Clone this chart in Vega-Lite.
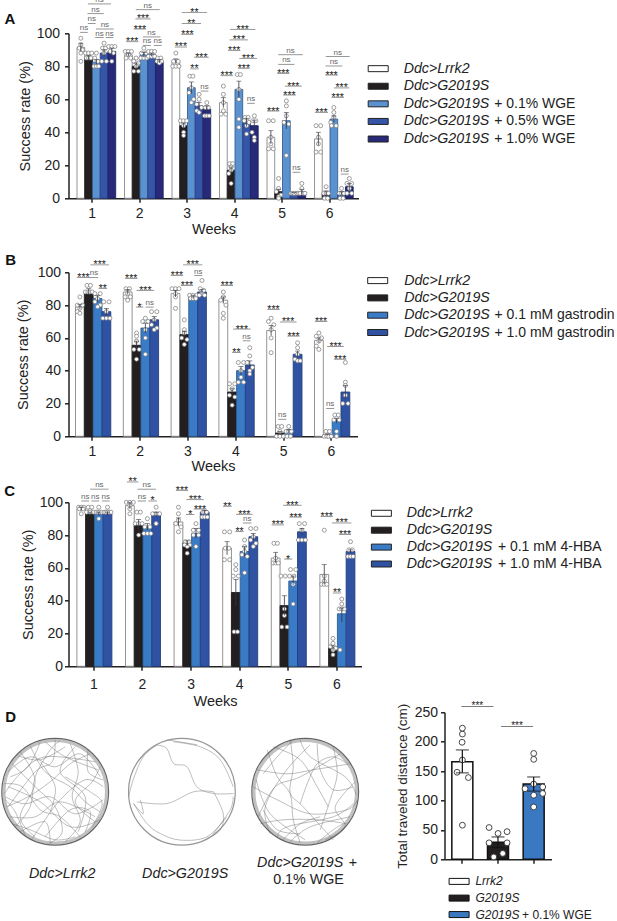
{"$schema":"https://vega.github.io/schema/vega-lite/v6.json","padding":{"left":-2.5,"top":-4.7,"right":0,"bottom":0},"bounds":"flush","align":"none","columns":2,"spacing":{"row":0,"column":0},
"resolve":{"scale":{"xOffset":"independent","fill":"independent","stroke":"independent","size":"independent"}},
"config":{"font":"Liberation Sans","view":{"stroke":null},"axis":{"grid":false,"domainColor":"#222","tickColor":"#222","domainWidth":1.5,"tickWidth":1.5,"tickSize":4,"labelColor":"#222","titleColor":"#222","labelFontSize":14,"titleFontSize":14.5,"titleFontWeight":"normal"}},
"datasets":{
"ab":[{"w":1,"s":"a","p":0.5,"v":91.5,"l":89,"h":94},{"w":1,"s":"b","p":1.5,"v":85,"l":83.5,"h":86.5},{"w":1,"s":"c","p":2.5,"v":82.5,"l":81,"h":84},{"w":1,"s":"d","p":3.5,"v":88,"l":86,"h":90},{"w":1,"s":"e","p":4.5,"v":89,"l":87,"h":91},
{"w":2,"s":"a","p":0.5,"v":87,"l":86,"h":88},{"w":2,"s":"b","p":1.5,"v":80,"l":78,"h":82},{"w":2,"s":"c","p":2.5,"v":87,"l":85.5,"h":88.5},{"w":2,"s":"d","p":3.5,"v":87,"l":86,"h":88},{"w":2,"s":"e","p":4.5,"v":83,"l":82,"h":84},
{"w":3,"s":"a","p":0.5,"v":83,"l":81.5,"h":84.5},{"w":3,"s":"b","p":1.5,"v":44,"l":42.5,"h":45.5},{"w":3,"s":"c","p":2.5,"v":67,"l":63.5,"h":70.5},{"w":3,"s":"d","p":3.5,"v":56,"l":54,"h":58},{"w":3,"s":"e","p":4.5,"v":54,"l":52,"h":56},
{"w":4,"s":"a","p":0.5,"v":58,"l":55,"h":61},{"w":4,"s":"b","p":1.5,"v":17,"l":15,"h":19},{"w":4,"s":"c","p":2.5,"v":66,"l":61,"h":71},{"w":4,"s":"d","p":3.5,"v":46,"l":43.5,"h":48.5},{"w":4,"s":"e","p":4.5,"v":44,"l":41,"h":47},
{"w":5,"s":"a","p":0.5,"v":37,"l":33,"h":41},{"w":5,"s":"b","p":1.5,"v":4,"l":2.5,"h":5.5},{"w":5,"s":"c","p":2.5,"v":47,"l":42,"h":52},{"w":5,"s":"d","p":3.5,"v":3,"l":2.5,"h":3.5},{"w":5,"s":"e","p":4.5,"v":4,"l":2.5,"h":5.5},
{"w":6,"s":"a","p":0.5,"v":36,"l":32,"h":40},{"w":6,"s":"b","p":1.5,"v":3,"l":1.5,"h":4.5},{"w":6,"s":"c","p":2.5,"v":48,"l":46,"h":50},{"w":6,"s":"d","p":3.5,"v":3,"l":2,"h":4},{"w":6,"s":"e","p":4.5,"v":7,"l":5,"h":9}],
"ap":[{"w":1,"p":0.5,"v":97},{"w":1,"p":0.5,"v":93},{"w":1,"p":0.3,"v":91},{"w":1,"p":0.7,"v":90},{"w":1,"p":0.5,"v":88},{"w":1,"p":0.5,"v":83},
{"w":1,"p":1.1,"v":88},{"w":1,"p":1.5,"v":88},{"w":1,"p":1.9,"v":88},{"w":1,"p":1.2,"v":85},{"w":1,"p":1.5,"v":85},{"w":1,"p":1.8,"v":85},
{"w":1,"p":2.5,"v":88},{"w":1,"p":2.3,"v":85},{"w":1,"p":2.7,"v":83},{"w":1,"p":2.2,"v":80},{"w":1,"p":2.5,"v":80},{"w":1,"p":2.8,"v":80},
{"w":1,"p":3.5,"v":94},{"w":1,"p":3.3,"v":91},{"w":1,"p":3.7,"v":91},{"w":1,"p":3.5,"v":88},{"w":1,"p":3.2,"v":83},{"w":1,"p":3.8,"v":83},
{"w":1,"p":4.1,"v":92},{"w":1,"p":4.5,"v":92},{"w":1,"p":4.9,"v":92},{"w":1,"p":4.3,"v":89},{"w":1,"p":4.7,"v":88},{"w":1,"p":4.5,"v":83},
{"w":2,"p":0.1,"v":89},{"w":2,"p":0.5,"v":89},{"w":2,"p":0.9,"v":89},{"w":2,"p":0.5,"v":87},{"w":2,"p":0.2,"v":85},{"w":2,"p":0.8,"v":85},
{"w":2,"p":1.5,"v":85},{"w":2,"p":1.2,"v":83},{"w":2,"p":1.8,"v":82},{"w":2,"p":1.5,"v":80},{"w":2,"p":1.2,"v":77},{"w":2,"p":1.8,"v":77},
{"w":2,"p":2.5,"v":91},{"w":2,"p":2.2,"v":88},{"w":2,"p":2.8,"v":88},{"w":2,"p":2.1,"v":85},{"w":2,"p":2.5,"v":85},{"w":2,"p":2.9,"v":85},
{"w":2,"p":3.1,"v":89},{"w":2,"p":3.5,"v":89},{"w":2,"p":3.9,"v":89},{"w":2,"p":3.1,"v":86},{"w":2,"p":3.5,"v":86},{"w":2,"p":3.9,"v":86},
{"w":2,"p":4.3,"v":85},{"w":2,"p":4.7,"v":85},{"w":2,"p":4.2,"v":83},{"w":2,"p":4.5,"v":83},{"w":2,"p":4.8,"v":83},{"w":2,"p":4.5,"v":82},
{"w":3,"p":0.5,"v":88},{"w":3,"p":0.2,"v":83},{"w":3,"p":0.8,"v":83},{"w":3,"p":0.1,"v":80},{"w":3,"p":0.5,"v":80},{"w":3,"p":0.9,"v":80},
{"w":3,"p":1.1,"v":47},{"w":3,"p":1.5,"v":47},{"w":3,"p":1.9,"v":47},{"w":3,"p":1.5,"v":44},{"w":3,"p":1.5,"v":40},{"w":3,"p":1.5,"v":38},
{"w":3,"p":2.3,"v":74},{"w":3,"p":2.7,"v":74},{"w":3,"p":2.5,"v":67},{"w":3,"p":2.2,"v":64},{"w":3,"p":2.8,"v":60},{"w":3,"p":2.5,"v":58},
{"w":3,"p":3.5,"v":63},{"w":3,"p":3.5,"v":60},{"w":3,"p":3.2,"v":57},{"w":3,"p":3.8,"v":55},{"w":3,"p":3.2,"v":53},{"w":3,"p":3.5,"v":52},
{"w":3,"p":4.5,"v":58},{"w":3,"p":4.3,"v":55},{"w":3,"p":4.7,"v":55},{"w":3,"p":4.2,"v":50},{"w":3,"p":4.5,"v":50},{"w":3,"p":4.8,"v":50},
{"w":4,"p":0.5,"v":68},{"w":4,"p":0.5,"v":63},{"w":4,"p":0.5,"v":58},{"w":4,"p":0.5,"v":53},{"w":4,"p":0.2,"v":51},{"w":4,"p":0.8,"v":51},
{"w":4,"p":1.3,"v":21},{"w":4,"p":1.7,"v":21},{"w":4,"p":1.5,"v":19},{"w":4,"p":1.5,"v":17},{"w":4,"p":1.2,"v":15},{"w":4,"p":1.5,"v":9},
{"w":4,"p":2.3,"v":75},{"w":4,"p":2.7,"v":75},{"w":4,"p":2.5,"v":66},{"w":4,"p":2.5,"v":60},{"w":4,"p":2.5,"v":48},{"w":4,"p":2.5,"v":43},
{"w":4,"p":3.3,"v":49},{"w":4,"p":3.7,"v":49},{"w":4,"p":3.2,"v":47},{"w":4,"p":3.8,"v":46},{"w":4,"p":3.5,"v":44},{"w":4,"p":3.5,"v":39},
{"w":4,"p":4.5,"v":50},{"w":4,"p":4.3,"v":47},{"w":4,"p":4.7,"v":47},{"w":4,"p":4.2,"v":40},{"w":4,"p":4.5,"v":37},{"w":4,"p":4.5,"v":35},
{"w":5,"p":0.2,"v":47},{"w":5,"p":0.8,"v":47},{"w":5,"p":0.5,"v":37},{"w":5,"p":0.5,"v":33},{"w":5,"p":0.2,"v":30},{"w":5,"p":0.8,"v":30},
{"w":5,"p":1.5,"v":12},{"w":5,"p":1.5,"v":6},{"w":5,"p":1.2,"v":4},{"w":5,"p":1.8,"v":2},{"w":5,"p":1.5,"v":1},{"w":5,"p":1.5,"v":0},
{"w":5,"p":2.5,"v":59},{"w":5,"p":2.5,"v":56},{"w":5,"p":2.5,"v":50},{"w":5,"p":2.2,"v":46},{"w":5,"p":2.8,"v":45},{"w":5,"p":2.5,"v":26},
{"w":5,"p":3.1,"v":3},{"w":5,"p":3.3,"v":3},{"w":5,"p":3.5,"v":3},{"w":5,"p":3.7,"v":3},{"w":5,"p":3.9,"v":3},{"w":5,"p":3.5,"v":3},
{"w":5,"p":4.5,"v":9},{"w":5,"p":4.5,"v":6},{"w":5,"p":4.1,"v":3},{"w":5,"p":4.3,"v":3},{"w":5,"p":4.7,"v":3},{"w":5,"p":4.9,"v":3},
{"w":6,"p":0.2,"v":44},{"w":6,"p":0.8,"v":44},{"w":6,"p":0.5,"v":37},{"w":6,"p":0.5,"v":33},{"w":6,"p":0.2,"v":28},{"w":6,"p":0.8,"v":28},
{"w":6,"p":1.5,"v":7},{"w":6,"p":1.2,"v":3},{"w":6,"p":1.5,"v":3},{"w":6,"p":1.8,"v":3},{"w":6,"p":1.3,"v":0},{"w":6,"p":1.7,"v":0},
{"w":6,"p":2.5,"v":55},{"w":6,"p":2.5,"v":52},{"w":6,"p":2.5,"v":49},{"w":6,"p":2.1,"v":46},{"w":6,"p":2.2,"v":44},{"w":6,"p":2.8,"v":44},
{"w":6,"p":3.5,"v":6},{"w":6,"p":3.2,"v":3},{"w":6,"p":3.5,"v":3},{"w":6,"p":3.8,"v":3},{"w":6,"p":3.3,"v":0},{"w":6,"p":3.7,"v":0},
{"w":6,"p":4.5,"v":12},{"w":6,"p":4.2,"v":9},{"w":6,"p":4.8,"v":9},{"w":6,"p":4.5,"v":6},{"w":6,"p":4.2,"v":3},{"w":6,"p":4.8,"v":3}],
"as":[{"w":1,"p":2.9,"n":3,"v":117.8,"t":"ns"},{"w":1,"p":2.4,"n":2.1,"v":111.9,"t":"ns"},{"w":1,"p":1.9,"n":1,"v":106,"t":"ns"},{"w":1,"p":0.9,"n":1,"v":100.6,"t":"ns"},{"w":1,"p":3.6,"n":2.3,"v":102.6,"t":"ns"},{"w":1,"p":2.9,"n":1.1,"v":97.4,"t":"ns"},{"w":1,"p":4.2,"n":1,"v":97.4,"t":"ns"},
{"w":2,"p":3,"n":3.1,"v":114.3,"t":"ns"},{"w":2,"p":2.4,"n":2,"v":108.7,"t":"***"},{"w":2,"p":2,"n":1.6,"v":102.6,"t":"***"},{"w":2,"p":1,"n":1.6,"v":94.9,"t":"***"},{"w":2,"p":3.5,"n":2.3,"v":97.8,"t":"ns"},{"w":2,"p":2.9,"n":1,"v":92.7,"t":"ns"},{"w":2,"p":4.3,"n":1,"v":92.7,"t":"ns"},
{"w":3,"p":2.9,"n":3.3,"v":112.5,"t":"**"},{"w":3,"p":2.5,"n":2.5,"v":106,"t":"**"},{"w":3,"p":2,"n":1.6,"v":99.4,"t":"***"},{"w":3,"p":1.15,"n":1.6,"v":91.7,"t":"***"},{"w":3,"p":3.8,"n":1.9,"v":85.5,"t":"***"},{"w":3,"p":2.9,"n":1.1,"v":78.4,"t":"**"},{"w":3,"p":4.2,"n":1,"v":65,"t":"ns"},
{"w":4,"p":3,"n":3.3,"v":102.4,"t":"***"},{"w":4,"p":2.5,"n":2.4,"v":96,"t":"***"},{"w":4,"p":1.9,"n":1.6,"v":89.5,"t":"***"},{"w":4,"p":3.7,"n":2.3,"v":84.8,"t":"***"},{"w":4,"p":3.15,"n":1.5,"v":78.8,"t":"***"},{"w":4,"p":0.93,"n":1.6,"v":74.3,"t":"***"},{"w":4,"p":4.07,"n":1,"v":57.6,"t":"ns"},
{"w":5,"p":3.04,"n":3.2,"v":87,"t":"ns"},{"w":5,"p":2.5,"n":2.1,"v":81.2,"t":"ns"},{"w":5,"p":2.1,"n":1.6,"v":75.8,"t":"***"},{"w":5,"p":3.4,"n":2.2,"v":68,"t":"***"},{"w":5,"p":2.9,"n":1.65,"v":62.6,"t":"***"},{"w":5,"p":0.8,"n":1.6,"v":52.9,"t":"***"},{"w":5,"p":3.8,"n":1,"v":15.8,"t":"ns"},
{"w":6,"p":3,"n":3.1,"v":85.9,"t":"ns"},{"w":6,"p":2.5,"n":2.2,"v":80.2,"t":"ns"},{"w":6,"p":2.2,"n":1.65,"v":74.7,"t":"***"},{"w":6,"p":3.5,"n":2,"v":66.9,"t":"***"},{"w":6,"p":3,"n":1.6,"v":61.2,"t":"***"},{"w":6,"p":0.9,"n":1.7,"v":52.1,"t":"***"},{"w":6,"p":3.9,"n":1,"v":14.7,"t":"ns"}],
"bb":[{"w":1,"s":"a","p":0.5,"v":79,"l":77.5,"h":80.5},{"w":1,"s":"b","p":1.5,"v":88,"l":86,"h":90},{"w":1,"s":"c","p":2.5,"v":84,"l":82,"h":86},{"w":1,"s":"d","p":3.5,"v":76,"l":73.5,"h":78},
{"w":2,"s":"a","p":0.5,"v":88,"l":86.5,"h":89.5},{"w":2,"s":"b","p":1.5,"v":55.5,"l":53,"h":58},{"w":2,"s":"c","p":2.5,"v":66,"l":63,"h":69},{"w":2,"s":"d","p":3.5,"v":71,"l":69,"h":73},
{"w":3,"s":"a","p":0.5,"v":87,"l":85,"h":89},{"w":3,"s":"b","p":1.5,"v":62,"l":60,"h":64},{"w":3,"s":"c","p":2.5,"v":85,"l":84,"h":86},{"w":3,"s":"d","p":3.5,"v":88,"l":86.5,"h":89.5},
{"w":4,"s":"a","p":0.5,"v":83,"l":81,"h":85},{"w":4,"s":"b","p":1.5,"v":27,"l":25,"h":29},{"w":4,"s":"c","p":2.5,"v":40,"l":37.5,"h":42.5},{"w":4,"s":"d","p":3.5,"v":43.5,"l":41,"h":46},
{"w":5,"s":"a","p":0.5,"v":64.5,"l":61.5,"h":67.5},{"w":5,"s":"b","p":1.5,"v":2,"l":1,"h":3},{"w":5,"s":"c","p":2.5,"v":3,"l":2,"h":4},{"w":5,"s":"d","p":3.5,"v":50,"l":48,"h":52},
{"w":6,"s":"a","p":0.5,"v":58.5,"l":57,"h":60},{"w":6,"s":"b","p":1.5,"v":1,"l":0.5,"h":1.5},{"w":6,"s":"c","p":2.5,"v":9.5,"l":8,"h":11},{"w":6,"s":"d","p":3.5,"v":27,"l":23,"h":31}],
"bp":[{"w":1,"p":0.5,"v":85},{"w":1,"p":0.2,"v":80},{"w":1,"p":0.8,"v":80},{"w":1,"p":0.5,"v":78},{"w":1,"p":0.2,"v":76},{"w":1,"p":0.5,"v":75},
{"w":1,"p":1.3,"v":92},{"w":1,"p":1.7,"v":92},{"w":1,"p":1.1,"v":88},{"w":1,"p":1.4,"v":88},{"w":1,"p":1.6,"v":88},{"w":1,"p":1.9,"v":88},
{"w":1,"p":2.2,"v":87},{"w":1,"p":2.8,"v":87},{"w":1,"p":2.5,"v":84},{"w":1,"p":2.2,"v":82},{"w":1,"p":2.8,"v":80},{"w":1,"p":2.5,"v":79},
{"w":1,"p":3.2,"v":82},{"w":1,"p":3.8,"v":82},{"w":1,"p":3.5,"v":76},{"w":1,"p":3.1,"v":72},{"w":1,"p":3.5,"v":72},{"w":1,"p":3.9,"v":72},
{"w":2,"p":0.3,"v":90},{"w":2,"p":0.7,"v":90},{"w":2,"p":0.5,"v":87},{"w":2,"p":0.2,"v":85},{"w":2,"p":0.8,"v":85},{"w":2,"p":0.5,"v":83},
{"w":2,"p":1.5,"v":63},{"w":2,"p":1.5,"v":61},{"w":2,"p":1.5,"v":58},{"w":2,"p":1.2,"v":53},{"w":2,"p":1.8,"v":53},{"w":2,"p":1.5,"v":47},
{"w":2,"p":2.5,"v":72},{"w":2,"p":2.2,"v":70},{"w":2,"p":2.8,"v":70},{"w":2,"p":2.5,"v":65},{"w":2,"p":2.5,"v":60},{"w":2,"p":2.5,"v":50},
{"w":2,"p":3.2,"v":76},{"w":2,"p":3.8,"v":76},{"w":2,"p":3.5,"v":71},{"w":2,"p":3.2,"v":68},{"w":2,"p":3.8,"v":66},{"w":2,"p":3.5,"v":65},
{"w":3,"p":0.1,"v":90},{"w":3,"p":0.5,"v":90},{"w":3,"p":0.9,"v":90},{"w":3,"p":0.5,"v":87},{"w":3,"p":0.5,"v":85},{"w":3,"p":0.5,"v":78},
{"w":3,"p":1.5,"v":71},{"w":3,"p":1.5,"v":65},{"w":3,"p":1.5,"v":63},{"w":3,"p":1.2,"v":60},{"w":3,"p":1.8,"v":59},{"w":3,"p":1.5,"v":56},
{"w":3,"p":2.1,"v":86},{"w":3,"p":2.5,"v":86},{"w":3,"p":2.9,"v":86},{"w":3,"p":2.2,"v":84},{"w":3,"p":2.5,"v":84},{"w":3,"p":2.8,"v":84},
{"w":3,"p":3.5,"v":95},{"w":3,"p":3.3,"v":90},{"w":3,"p":3.7,"v":89},{"w":3,"p":3.5,"v":87},{"w":3,"p":3.2,"v":86},{"w":3,"p":3.8,"v":86},
{"w":4,"p":0.5,"v":88},{"w":4,"p":0.5,"v":85},{"w":4,"p":0.2,"v":83},{"w":4,"p":0.8,"v":80},{"w":4,"p":0.5,"v":75},{"w":4,"p":0.5,"v":72},
{"w":4,"p":1.2,"v":32},{"w":4,"p":1.8,"v":32},{"w":4,"p":1.5,"v":29},{"w":4,"p":1.2,"v":25},{"w":4,"p":1.8,"v":24},{"w":4,"p":1.5,"v":19},
{"w":4,"p":2.2,"v":45},{"w":4,"p":2.8,"v":45},{"w":4,"p":2.5,"v":40},{"w":4,"p":2.5,"v":36},{"w":4,"p":2.2,"v":33},{"w":4,"p":2.8,"v":33},
{"w":4,"p":3.5,"v":54},{"w":4,"p":3.5,"v":49},{"w":4,"p":3.2,"v":45},{"w":4,"p":3.8,"v":42},{"w":4,"p":3.5,"v":40},{"w":4,"p":3.5,"v":38},
{"w":5,"p":0.5,"v":72},{"w":5,"p":0.2,"v":70},{"w":5,"p":0.8,"v":68},{"w":5,"p":0.5,"v":65},{"w":5,"p":0.5,"v":60},{"w":5,"p":0.5,"v":51},
{"w":5,"p":1.3,"v":6},{"w":5,"p":1.7,"v":6},{"w":5,"p":1.5,"v":3},{"w":5,"p":1.1,"v":0},{"w":5,"p":1.5,"v":0},{"w":5,"p":1.9,"v":0},
{"w":5,"p":2.5,"v":6},{"w":5,"p":2.2,"v":3},{"w":5,"p":2.5,"v":3},{"w":5,"p":2.8,"v":3},{"w":5,"p":2.3,"v":0},{"w":5,"p":2.7,"v":0},
{"w":5,"p":3.5,"v":57},{"w":5,"p":3.5,"v":54},{"w":5,"p":3.5,"v":50},{"w":5,"p":3.2,"v":47},{"w":5,"p":3.5,"v":46},{"w":5,"p":3.8,"v":46},
{"w":6,"p":0.5,"v":63},{"w":6,"p":0.2,"v":61},{"w":6,"p":0.8,"v":60},{"w":6,"p":0.5,"v":58},{"w":6,"p":0.2,"v":55},{"w":6,"p":0.5,"v":53},
{"w":6,"p":1.3,"v":3},{"w":6,"p":1.7,"v":3},{"w":6,"p":1.1,"v":0},{"w":6,"p":1.4,"v":0},{"w":6,"p":1.6,"v":0},{"w":6,"p":1.9,"v":0},
{"w":6,"p":2.3,"v":13},{"w":6,"p":2.7,"v":13},{"w":6,"p":2.2,"v":10},{"w":6,"p":2.8,"v":10},{"w":6,"p":2.5,"v":3},{"w":6,"p":2.5,"v":0},
{"w":6,"p":3.5,"v":45},{"w":6,"p":3.5,"v":33},{"w":6,"p":3.5,"v":31},{"w":6,"p":3.5,"v":25},{"w":6,"p":3.2,"v":20},{"w":6,"p":3.8,"v":20}],
"bs":[{"w":1,"p":2.74,"n":2.1,"v":104.5,"t":"***"},{"w":1,"p":0.9,"n":1.5,"v":96.9,"t":"***"},{"w":1,"p":2.1,"n":0.95,"v":96.9,"t":"ns"},{"w":1,"p":3.1,"n":0.95,"v":90.2,"t":"**"},
{"w":2,"p":0.9,"n":1.4,"v":96.3,"t":"***"},{"w":2,"p":2.5,"n":2,"v":89,"t":"***"},{"w":2,"p":1.85,"n":0.85,"v":78.8,"t":"*"},{"w":2,"p":3,"n":0.9,"v":78.8,"t":"ns"},
{"w":3,"p":2.45,"n":2.2,"v":104.5,"t":"***"},{"w":3,"p":0.66,"n":1.4,"v":98,"t":"***"},{"w":3,"p":3.08,"n":0.9,"v":98,"t":"ns"},{"w":3,"p":1.8,"n":1.4,"v":91.9,"t":"***"},
{"w":4,"p":0.9,"n":1.4,"v":92,"t":"***"},{"w":4,"p":2.6,"n":2,"v":65.4,"t":"***"},{"w":4,"p":3.13,"n":0.85,"v":58.2,"t":"ns"},{"w":4,"p":1.98,"n":0.95,"v":51.1,"t":"**"},
{"w":5,"p":0.77,"n":1.4,"v":77.4,"t":"***"},{"w":5,"p":2.43,"n":1.9,"v":69.7,"t":"***"},{"w":5,"p":3.04,"n":1.4,"v":61.1,"t":"***"},{"w":5,"p":1.77,"n":0.9,"v":10.4,"t":"ns"},
{"w":6,"p":0.74,"n":1.4,"v":70,"t":"***"},{"w":6,"p":2.38,"n":1.9,"v":54.8,"t":"***"},{"w":6,"p":2.9,"n":1.4,"v":47,"t":"***"},{"w":6,"p":1.77,"n":0.9,"v":17,"t":"ns"}],
"cb":[{"w":1,"s":"a","p":0.5,"v":96,"l":95,"h":97},{"w":1,"s":"b","p":1.5,"v":93,"l":92,"h":94},{"w":1,"s":"c","p":2.5,"v":93,"l":92,"h":94},{"w":1,"s":"d","p":3.5,"v":93,"l":92,"h":94},
{"w":2,"s":"a","p":0.5,"v":98,"l":96,"h":100},{"w":2,"s":"b","p":1.5,"v":86,"l":83,"h":89.5},{"w":2,"s":"c","p":2.5,"v":85,"l":83,"h":87},{"w":2,"s":"d","p":3.5,"v":93,"l":91,"h":94},
{"w":3,"s":"a","p":0.5,"v":88,"l":85.5,"h":90.5},{"w":3,"s":"b","p":1.5,"v":75,"l":73.5,"h":76.5},{"w":3,"s":"c","p":2.5,"v":81,"l":78,"h":84},{"w":3,"s":"d","p":3.5,"v":94,"l":93,"h":95},
{"w":4,"s":"a","p":0.5,"v":72,"l":68,"h":76},{"w":4,"s":"b","p":1.5,"v":45,"l":37,"h":53},{"w":4,"s":"c","p":2.5,"v":70,"l":67,"h":73},{"w":4,"s":"d","p":3.5,"v":79,"l":77,"h":81},
{"w":5,"s":"a","p":0.5,"v":66,"l":63,"h":69.5},{"w":5,"s":"b","p":1.5,"v":37,"l":31,"h":43},{"w":5,"s":"c","p":2.5,"v":52,"l":49.5,"h":55},{"w":5,"s":"d","p":3.5,"v":82,"l":80,"h":84},
{"w":6,"s":"a","p":0.5,"v":56,"l":50,"h":62},{"w":6,"s":"b","p":1.5,"v":11,"l":9.5,"h":12.5},{"w":6,"s":"c","p":2.5,"v":32,"l":27,"h":35.5},{"w":6,"s":"d","p":3.5,"v":70,"l":69,"h":71}],
"cp":[{"w":1,"p":0.2,"v":97},{"w":1,"p":0.5,"v":97},{"w":1,"p":0.8,"v":97},{"w":1,"p":0.3,"v":96},{"w":1,"p":0.7,"v":96},{"w":1,"p":0.5,"v":93},
{"w":1,"p":1.3,"v":97},{"w":1,"p":1.7,"v":97},{"w":1,"p":1.5,"v":95},{"w":1,"p":1.1,"v":94},{"w":1,"p":1.5,"v":94},{"w":1,"p":1.9,"v":94},
{"w":1,"p":2.5,"v":97},{"w":1,"p":2.2,"v":94},{"w":1,"p":2.4,"v":94},{"w":1,"p":2.6,"v":94},{"w":1,"p":2.8,"v":94},{"w":1,"p":2.5,"v":90},
{"w":1,"p":3.5,"v":97},{"w":1,"p":3.1,"v":94},{"w":1,"p":3.3,"v":94},{"w":1,"p":3.5,"v":94},{"w":1,"p":3.7,"v":94},{"w":1,"p":3.9,"v":94},
{"w":2,"p":0.1,"v":100},{"w":2,"p":0.5,"v":100},{"w":2,"p":0.9,"v":100},{"w":2,"p":0.5,"v":98},{"w":2,"p":0.5,"v":96},{"w":2,"p":0.5,"v":93},
{"w":2,"p":1.3,"v":94},{"w":2,"p":1.7,"v":94},{"w":2,"p":1.1,"v":87},{"w":2,"p":1.5,"v":87},{"w":2,"p":1.9,"v":87},{"w":2,"p":1.5,"v":80},
{"w":2,"p":2.5,"v":90},{"w":2,"p":2.2,"v":85},{"w":2,"p":2.8,"v":85},{"w":2,"p":2.1,"v":81},{"w":2,"p":2.5,"v":81},{"w":2,"p":2.9,"v":81},
{"w":2,"p":3.5,"v":97},{"w":2,"p":3.1,"v":93},{"w":2,"p":3.5,"v":93},{"w":2,"p":3.9,"v":93},{"w":2,"p":3.5,"v":87},{"w":2,"p":3.5,"v":87},
{"w":3,"p":0.5,"v":97},{"w":3,"p":0.5,"v":93},{"w":3,"p":0.5,"v":89},{"w":3,"p":0.2,"v":87},{"w":3,"p":0.8,"v":85},{"w":3,"p":0.5,"v":82},
{"w":3,"p":1.3,"v":76},{"w":3,"p":1.7,"v":76},{"w":3,"p":1.2,"v":74},{"w":3,"p":1.8,"v":74},{"w":3,"p":1.5,"v":73},{"w":3,"p":1.5,"v":69},
{"w":3,"p":2.5,"v":87},{"w":3,"p":2.2,"v":83},{"w":3,"p":2.8,"v":83},{"w":3,"p":2.2,"v":80},{"w":3,"p":2.8,"v":80},{"w":3,"p":2.5,"v":73},
{"w":3,"p":3.3,"v":94},{"w":3,"p":3.5,"v":94},{"w":3,"p":3.7,"v":94},{"w":3,"p":3.2,"v":91},{"w":3,"p":3.5,"v":91},{"w":3,"p":3.8,"v":91},
{"w":4,"p":0.2,"v":82},{"w":4,"p":0.8,"v":82},{"w":4,"p":0.3,"v":72},{"w":4,"p":0.7,"v":72},{"w":4,"p":0.2,"v":65},{"w":4,"p":0.8,"v":65},
{"w":4,"p":1.5,"v":62},{"w":4,"p":1.5,"v":59},{"w":4,"p":1.2,"v":55},{"w":4,"p":1.8,"v":55},{"w":4,"p":1.3,"v":21},{"w":4,"p":1.7,"v":21},
{"w":4,"p":2.5,"v":77},{"w":4,"p":2.5,"v":73},{"w":4,"p":2.5,"v":70},{"w":4,"p":2.2,"v":68},{"w":4,"p":2.8,"v":67},{"w":4,"p":2.5,"v":57},
{"w":4,"p":3.2,"v":84},{"w":4,"p":3.8,"v":84},{"w":4,"p":3.5,"v":79},{"w":4,"p":3.2,"v":77},{"w":4,"p":3.8,"v":75},{"w":4,"p":3.5,"v":73},
{"w":5,"p":0.3,"v":75},{"w":5,"p":0.7,"v":75},{"w":5,"p":0.5,"v":66},{"w":5,"p":0.2,"v":63},{"w":5,"p":0.5,"v":63},{"w":5,"p":0.8,"v":63},
{"w":5,"p":1.1,"v":55},{"w":5,"p":1.6,"v":55},{"w":5,"p":1.5,"v":35},{"w":5,"p":1.5,"v":31},{"w":5,"p":1.2,"v":24},{"w":5,"p":1.8,"v":24},
{"w":5,"p":2.2,"v":59},{"w":5,"p":2.8,"v":59},{"w":5,"p":2.1,"v":55},{"w":5,"p":2.6,"v":55},{"w":5,"p":2.5,"v":50},{"w":5,"p":2.5,"v":38},
{"w":5,"p":3.2,"v":87},{"w":5,"p":3.8,"v":87},{"w":5,"p":3.5,"v":83},{"w":5,"p":3.1,"v":77},{"w":5,"p":3.5,"v":77},{"w":5,"p":3.9,"v":77},
{"w":6,"p":0.5,"v":83},{"w":6,"p":0.5,"v":55},{"w":6,"p":0.5,"v":52},{"w":6,"p":0.2,"v":50},{"w":6,"p":0.5,"v":50},{"w":6,"p":0.8,"v":50},
{"w":6,"p":1.5,"v":17},{"w":6,"p":1.5,"v":14},{"w":6,"p":1.2,"v":12},{"w":6,"p":1.8,"v":11},{"w":6,"p":1.5,"v":10},{"w":6,"p":1.5,"v":7},
{"w":6,"p":2.5,"v":41},{"w":6,"p":2.5,"v":38},{"w":6,"p":2.2,"v":35},{"w":6,"p":2.5,"v":35},{"w":6,"p":2.8,"v":35},{"w":6,"p":2.3,"v":10},
{"w":6,"p":3.5,"v":76},{"w":6,"p":3.3,"v":71},{"w":6,"p":3.7,"v":71},{"w":6,"p":3.2,"v":67},{"w":6,"p":3.5,"v":67},{"w":6,"p":3.8,"v":67}],
"cs":[{"w":1,"p":2.57,"n":2.1,"v":108,"t":"ns"},{"w":1,"p":0.95,"n":0.9,"v":100.8,"t":"ns"},{"w":1,"p":2.1,"n":0.9,"v":100.8,"t":"ns"},{"w":1,"p":3.3,"n":0.9,"v":100.8,"t":"ns"},
{"w":2,"p":0.82,"n":1.3,"v":112.4,"t":"**"},{"w":2,"p":2.43,"n":2.1,"v":108,"t":"ns"},{"w":2,"p":1.88,"n":0.95,"v":100.8,"t":"ns"},{"w":2,"p":3.1,"n":0.95,"v":100.8,"t":"*"},
{"w":3,"p":0.9,"n":1.4,"v":107.3,"t":"***"},{"w":3,"p":2.4,"n":2,"v":101.6,"t":"***"},{"w":3,"p":2.97,"n":1.45,"v":95.9,"t":"***"},{"w":3,"p":1.84,"n":0.95,"v":92.5,"t":"*"},
{"w":4,"p":0.53,"n":1,"v":97.6,"t":"**"},{"w":4,"p":2.47,"n":1.9,"v":92.7,"t":"***"},{"w":4,"p":2.8,"n":1,"v":87.4,"t":"ns"},{"w":4,"p":1.92,"n":0.95,"v":82.1,"t":"**"},
{"w":5,"p":2.4,"n":2.1,"v":98.2,"t":"***"},{"w":5,"p":2.78,"n":1.45,"v":91,"t":"***"},{"w":5,"p":0.74,"n":1.4,"v":86.2,"t":"***"},{"w":5,"p":1.92,"n":0.95,"v":65.4,"t":"*"},
{"w":6,"p":0.78,"n":1.4,"v":91.3,"t":"***"},{"w":6,"p":2.49,"n":2.2,"v":87.4,"t":"***"},{"w":6,"p":2.87,"n":1.4,"v":80.3,"t":"***"},{"w":6,"p":1.96,"n":0.95,"v":44.7,"t":"**"}],
"la":[{"r":1,"t":"Ddc>Lrrk2","u":"","s":"a"},{"r":2,"t":"Ddc>G2019S","u":"","s":"b"},{"r":3,"t":"Ddc>G2019S","u":"+ 0.1% WGE","s":"c"},{"r":4,"t":"Ddc>G2019S","u":"+ 0.5% WGE","s":"d"},{"r":5,"t":"Ddc>G2019S","u":"+ 1.0% WGE","s":"e"}],
"lb":[{"r":1,"t":"Ddc>Lrrk2","u":"","s":"a"},{"r":2,"t":"Ddc>G2019S","u":"","s":"b"},{"r":3,"t":"Ddc>G2019S","u":"+ 0.1 mM gastrodin","s":"c"},{"r":4,"t":"Ddc>G2019S","u":"+ 1.0 mM gastrodin","s":"d"}],
"lc":[{"r":1,"t":"Ddc>Lrrk2","u":"","s":"a"},{"r":2,"t":"Ddc>G2019S","u":"","s":"b"},{"r":3,"t":"Ddc>G2019S","u":"+ 0.1 mM 4-HBA","s":"c"},{"r":4,"t":"Ddc>G2019S","u":"+ 1.0 mM 4-HBA","s":"d"}],
"tr":[{"t":1,"i":0,"x":8,"y":20},{"t":1,"i":1,"x":30,"y":35},{"t":1,"i":2,"x":55,"y":25},{"t":1,"i":3,"x":80,"y":38},{"t":1,"i":4,"x":100,"y":15},
{"t":2,"i":0,"x":5,"y":-5},{"t":2,"i":1,"x":25,"y":-12},{"t":2,"i":2,"x":50,"y":-5},{"t":2,"i":3,"x":75,"y":-22},{"t":2,"i":4,"x":103,"y":-8},
{"t":3,"i":0,"x":15,"y":-35},{"t":3,"i":1,"x":30,"y":-15},{"t":3,"i":2,"x":35,"y":15},{"t":3,"i":3,"x":50,"y":42},{"t":3,"i":4,"x":60,"y":51},
{"t":4,"i":0,"x":30,"y":46},{"t":4,"i":1,"x":45,"y":20},{"t":4,"i":2,"x":70,"y":5},{"t":4,"i":3,"x":85,"y":-10},{"t":4,"i":4,"x":100,"y":-20},
{"t":5,"i":0,"x":4,"y":8},{"t":5,"i":1,"x":22,"y":5},{"t":5,"i":2,"x":40,"y":-18},{"t":5,"i":3,"x":60,"y":-25},{"t":5,"i":4,"x":80,"y":-45},
{"t":6,"i":0,"x":20,"y":-40},{"t":6,"i":1,"x":45,"y":-30},{"t":6,"i":2,"x":50,"y":-52},
{"t":7,"i":0,"x":70,"y":48},{"t":7,"i":1,"x":78,"y":20},{"t":7,"i":2,"x":72,"y":-5},{"t":7,"i":3,"x":80,"y":-30},{"t":7,"i":4,"x":65,"y":-50},
{"t":8,"i":0,"x":90,"y":38},{"t":8,"i":1,"x":70,"y":28},{"t":8,"i":2,"x":50,"y":10},{"t":8,"i":3,"x":28,"y":-5},{"t":8,"i":4,"x":6,"y":-15},
{"t":9,"i":0,"x":40,"y":50},{"t":9,"i":1,"x":28,"y":25},{"t":9,"i":2,"x":10,"y":15},
{"t":10,"i":0,"x":103,"y":5},{"t":10,"i":1,"x":85,"y":12},{"t":10,"i":2,"x":60,"y":-8},{"t":10,"i":3,"x":40,"y":-35},{"t":10,"i":4,"x":32,"y":-47},
{"t":11,"i":0,"x":12,"y":28},{"t":11,"i":1,"x":35,"y":5},{"t":11,"i":2,"x":55,"y":-15},{"t":11,"i":3,"x":62,"y":-40},{"t":11,"i":4,"x":50,"y":-51},
{"t":12,"i":0,"x":95,"y":-30},{"t":12,"i":1,"x":75,"y":-10},{"t":12,"i":2,"x":92,"y":10},{"t":12,"i":3,"x":100,"y":25},
{"t":13,"i":0,"x":18,"y":36},{"t":13,"i":1,"x":40,"y":32},{"t":13,"i":2,"x":65,"y":45},
{"t":14,"i":0,"x":25,"y":-44},{"t":14,"i":1,"x":15,"y":-20},{"t":14,"i":2,"x":5,"y":-8},
{"t":15,"i":0,"x":85,"y":-40},{"t":15,"i":1,"x":90,"y":-20},{"t":15,"i":2,"x":70,"y":-18},{"t":15,"i":3,"x":45,"y":-45},
{"t":16,"i":0,"x":55,"y":52},{"t":16,"i":1,"x":52,"y":30},{"t":16,"i":2,"x":35,"y":20},{"t":16,"i":3,"x":8,"y":-15},
{"t":17,"i":0,"x":10,"y":-25},{"t":17,"i":1,"x":35,"y":-25},{"t":17,"i":2,"x":60,"y":-10},{"t":17,"i":3,"x":95,"y":-25},
{"t":18,"i":0,"x":88,"y":42},{"t":18,"i":1,"x":88,"y":20},{"t":18,"i":2,"x":103,"y":12},
{"t":51,"i":0,"x":20,"y":40},{"t":51,"i":1,"x":35,"y":10},{"t":51,"i":2,"x":20,"y":-25},{"t":51,"i":3,"x":35,"y":-45},
{"t":52,"i":0,"x":75,"y":45},{"t":52,"i":1,"x":60,"y":20},{"t":52,"i":2,"x":85,"y":-5},{"t":52,"i":3,"x":78,"y":-40},
{"t":53,"i":0,"x":4,"y":-2},{"t":53,"i":1,"x":20,"y":18},{"t":53,"i":2,"x":45,"y":35},{"t":53,"i":3,"x":95,"y":30},
{"t":54,"i":0,"x":100,"y":-28},{"t":54,"i":1,"x":70,"y":-35},{"t":54,"i":2,"x":40,"y":-10},{"t":54,"i":3,"x":8,"y":5},
{"t":55,"i":0,"x":45,"y":50},{"t":55,"i":1,"x":65,"y":35},{"t":55,"i":2,"x":98,"y":22},
{"t":56,"i":0,"x":12,"y":-32},{"t":56,"i":1,"x":30,"y":-38},{"t":56,"i":2,"x":55,"y":-48},{"t":56,"i":3,"x":75,"y":-45},
{"t":57,"i":0,"x":50,"y":-20},{"t":57,"i":1,"x":55,"y":5},{"t":57,"i":2,"x":40,"y":30},
{"t":58,"i":0,"x":92,"y":-35},{"t":58,"i":1,"x":102,"y":-12},{"t":58,"i":2,"x":90,"y":0},{"t":58,"i":3,"x":65,"y":15},
{"t":21,"i":0,"x":156.7,"y":46.7},{"t":21,"i":1,"x":166.7,"y":43.3},{"t":21,"i":2,"x":173.3,"y":28.3},{"t":21,"i":3,"x":186.7,"y":25},{"t":21,"i":4,"x":196.7,"y":5},{"t":21,"i":5,"x":213.3,"y":-1.7},{"t":21,"i":6,"x":233.3,"y":-1.7},
{"t":22,"i":0,"x":136.7,"y":-10},{"t":22,"i":1,"x":166.7,"y":-11.7},{"t":22,"i":2,"x":193.3,"y":0},{"t":22,"i":3,"x":213.3,"y":0},
{"t":23,"i":0,"x":133.3,"y":-11.7},{"t":23,"i":1,"x":146.7,"y":-31.7},{"t":23,"i":2,"x":160,"y":-41.7},{"t":23,"i":3,"x":180,"y":-48.3},{"t":23,"i":4,"x":206.7,"y":-45},{"t":23,"i":5,"x":226.7,"y":-25},
{"t":24,"i":0,"x":213.3,"y":0},{"t":24,"i":1,"x":223,"y":-21.7},{"t":24,"i":2,"x":220,"y":-38.3},{"t":24,"i":3,"x":206.7,"y":-46.7},
{"t":25,"i":0,"x":173,"y":50},{"t":25,"i":1,"x":200,"y":45},{"t":25,"i":2,"x":220,"y":32},{"t":25,"i":3,"x":233,"y":5},
{"t":26,"i":0,"x":156.7,"y":46.7},{"t":26,"i":1,"x":143,"y":35},{"t":26,"i":2,"x":133,"y":12},{"t":26,"i":3,"x":128.5,"y":-5},
{"t":27,"i":0,"x":133.3,"y":-11.7},{"t":27,"i":1,"x":143,"y":-22},{"t":27,"i":2,"x":140,"y":-8},
{"t":28,"i":0,"x":233,"y":-5},{"t":28,"i":1,"x":230,"y":-18},{"t":28,"i":2,"x":213,"y":-42},
{"t":29,"i":0,"x":197,"y":47},{"t":29,"i":1,"x":167,"y":52},
{"t":31,"i":0,"x":267,"y":42},{"t":31,"i":1,"x":277,"y":15},{"t":31,"i":2,"x":290,"y":-2},{"t":31,"i":3,"x":293,"y":-28},{"t":31,"i":4,"x":300,"y":-51},
{"t":32,"i":0,"x":290,"y":52},{"t":32,"i":1,"x":293,"y":25},{"t":32,"i":2,"x":290,"y":-1},{"t":32,"i":3,"x":303,"y":-15},{"t":32,"i":4,"x":333,"y":-48},
{"t":33,"i":0,"x":253,"y":5},{"t":33,"i":1,"x":277,"y":-8},{"t":33,"i":2,"x":310,"y":-22},{"t":33,"i":3,"x":347,"y":-18},{"t":33,"i":4,"x":357,"y":-8},
{"t":34,"i":0,"x":317,"y":48},{"t":34,"i":1,"x":320,"y":22},{"t":34,"i":2,"x":333,"y":2},{"t":34,"i":3,"x":353,"y":5},
{"t":35,"i":0,"x":260,"y":-32},{"t":35,"i":1,"x":283,"y":-28},{"t":35,"i":2,"x":317,"y":-28},{"t":35,"i":3,"x":347,"y":-32},
{"t":36,"i":0,"x":333,"y":45},{"t":36,"i":1,"x":337,"y":18},{"t":36,"i":2,"x":330,"y":-8},{"t":36,"i":3,"x":320,"y":-38},
{"t":37,"i":0,"x":273,"y":45},{"t":37,"i":1,"x":300,"y":32},{"t":37,"i":2,"x":317,"y":5},{"t":37,"i":3,"x":328,"y":-15},
{"t":38,"i":0,"x":257,"y":22},{"t":38,"i":1,"x":287,"y":18},{"t":38,"i":2,"x":313,"y":22},{"t":38,"i":3,"x":350,"y":28},
{"t":39,"i":0,"x":277,"y":-45},{"t":39,"i":1,"x":287,"y":-35},{"t":39,"i":2,"x":333,"y":-25},{"t":39,"i":3,"x":353,"y":-12},
{"t":40,"i":0,"x":263,"y":-18},{"t":40,"i":1,"x":277,"y":-38},{"t":40,"i":2,"x":300,"y":-42},
{"t":41,"i":0,"x":293,"y":52},{"t":41,"i":1,"x":277,"y":35},{"t":41,"i":2,"x":263,"y":18},
{"t":42,"i":0,"x":347,"y":28},{"t":42,"i":1,"x":333,"y":35},{"t":42,"i":2,"x":317,"y":28},{"t":42,"i":3,"x":307,"y":8},{"t":42,"i":4,"x":300,"y":-12},
{"t":43,"i":0,"x":343,"y":-32},{"t":43,"i":1,"x":333,"y":-38},{"t":43,"i":2,"x":317,"y":-51},
{"t":44,"i":0,"x":283,"y":-48},{"t":44,"i":1,"x":300,"y":-32},{"t":44,"i":2,"x":320,"y":-25},
{"t":61,"i":0,"x":258,"y":-25},{"t":61,"i":1,"x":275,"y":5},{"t":61,"i":2,"x":300,"y":15},{"t":61,"i":3,"x":340,"y":38},
{"t":62,"i":0,"x":270,"y":-42},{"t":62,"i":1,"x":265,"y":-15},{"t":62,"i":2,"x":285,"y":20},{"t":62,"i":3,"x":310,"y":47},
{"t":63,"i":0,"x":355,"y":10},{"t":63,"i":1,"x":335,"y":-15},{"t":63,"i":2,"x":345,"y":-35},{"t":63,"i":3,"x":325,"y":-48},
{"t":64,"i":0,"x":290,"y":-50},{"t":64,"i":1,"x":310,"y":-35},{"t":64,"i":2,"x":350,"y":-25},
{"t":65,"i":0,"x":300,"y":52},{"t":65,"i":1,"x":310,"y":35},{"t":65,"i":2,"x":345,"y":15},{"t":65,"i":3,"x":356,"y":-3},
{"t":66,"i":0,"x":256,"y":12},{"t":66,"i":1,"x":270,"y":-22},{"t":66,"i":2,"x":305,"y":-48}],
"rg":[{"a":"1","x":55,"y":0},{"a":"2","x":181.7,"y":0},{"a":"3","x":305,"y":0}],
"rh":[{"a":"1","x":55,"y":0},{"a":"3","x":305,"y":0}],
"at":[{"x":62,"y":-82,"t":"Ddc>Lrrk2"},{"x":185,"y":-82,"t":"Ddc>G2019S"},{"x":300,"y":-71.3,"t":"Ddc>G2019S"}],
"ar":[{"x":352.7,"y":-71.3,"t":"+"},{"x":308.3,"y":-88,"t":"0.1% WGE"}],
"dl":[{"x":5,"y":75,"t":"D"}],
"db":[{"g":"Lrrk2","v":166,"l":147,"h":186},{"g":"G2019S","v":29,"l":20,"h":38},{"g":"W","v":128,"l":116,"h":140}],
"dp":[{"g":"Lrrk2","o":0,"v":58},{"g":"Lrrk2","o":6,"v":139},{"g":"Lrrk2","o":-5.3,"v":148},{"g":"Lrrk2","o":0,"v":169},{"g":"Lrrk2","o":-0.3,"v":199},{"g":"Lrrk2","o":0,"v":213},{"g":"Lrrk2","o":0,"v":223},
{"g":"G2019S","o":-9,"v":54},{"g":"G2019S","o":0,"v":44},{"g":"G2019S","o":9,"v":47},{"g":"G2019S","o":-9,"v":28},{"g":"G2019S","o":9,"v":28},{"g":"G2019S","o":-4.3,"v":4},{"g":"G2019S","o":4.7,"v":10},
{"g":"W","o":0,"v":180},{"g":"W","o":0,"v":170},{"g":"W","o":0,"v":128},{"g":"W","o":-8.7,"v":120},{"g":"W","o":9,"v":123},{"g":"W","o":0,"v":109},{"g":"W","o":9,"v":112},{"g":"W","o":0,"v":89}],
"ds":[{"g":"Lrrk2","o":15,"v":260,"t":"***"},{"g":"G2019S","o":19,"v":226,"t":"***"}],
"dk":[{"g":"Lrrk2","o":-3.3,"o2":13,"o3":59.7,"v":-37.6,"f":"Lrrk2","t":"Lrrk2","u":""},{"g":"Lrrk2","o":-3.3,"o2":13,"o3":59.7,"v":-66,"f":"G2019S","t":"G2019S","u":""},{"g":"Lrrk2","o":-3.3,"o2":13,"o3":59.7,"v":-94,"f":"W","t":"G2019S","u":"+ 0.1% WGE"}]},
"concat":[
{"width":290,"height":165,"layer":[
{"data":{"name":"ab"},"mark":{"type":"bar","width":7.7,"strokeWidth":0.9},"encoding":{"fill":{"field":"s","scale":{"domain":["a","b","c","d","e"],"range":["#fff","#231f20","#5a92d0","#3555a8","#262a78"]},"legend":null},"stroke":{"field":"s","scale":{"domain":["a","b","c","d","e"],"range":["#888","#231f20","#3a5f8f","#2a3f80","#1e2260"]},"legend":null},"y":{"field":"v","type":"quantitative"}}},
{"data":{"name":"ap"},"mark":{"type":"point","filled":false,"fill":"#fff","fillOpacity":1,"opacity":1,"size":16,"stroke":"#777","strokeWidth":0.7},"encoding":{"y":{"field":"v","type":"quantitative"}}},
{"data":{"name":"ab"},"mark":{"type":"rule","stroke":"#334","strokeWidth":0.8},"encoding":{"y":{"field":"l","type":"quantitative"},"y2":{"field":"h"}}},
{"data":{"name":"ab"},"mark":{"type":"tick","orient":"horizontal","size":5,"thickness":0.8,"color":"#334"},"encoding":{"y":{"field":"h","type":"quantitative"}}},
{"data":{"name":"as"},"mark":{"type":"tick","orient":"horizontal","thickness":0.8,"color":"#444"},"encoding":{"y":{"field":"v","type":"quantitative"},"size":{"field":"n","type":"quantitative","legend":null,"scale":{"domain":[0,5],"range":[0,38.5]}}}},
{"data":{"name":"as"},"transform":[{"filter":"datum.t=='ns'"}],"mark":{"type":"text","baseline":"bottom","fontSize":8,"color":"#666"},"encoding":{"y":{"field":"v","type":"quantitative"},"text":{"field":"t"}}},
{"data":{"name":"as"},"transform":[{"filter":"datum.t!='ns'"}],"mark":{"type":"text","baseline":"bottom","fontSize":10.5,"dy":5.5,"color":"#222"},"encoding":{"y":{"field":"v","type":"quantitative"},"text":{"field":"t"}}},
{"data":{"values":[{"w":1,"p":-9.36,"v":108.5,"t":"A"}]},"mark":{"type":"text","fontSize":15,"fontWeight":"bold","align":"left","color":"#111"},"encoding":{"y":{"field":"v","type":"quantitative"},"text":{"field":"t"}}}
],"encoding":{"x":{"field":"w","type":"ordinal","title":"Weeks","axis":{"labelAngle":0,"labelPadding":4,"titlePadding":2},"scale":{"paddingInner":0,"paddingOuter":0.0526,"align":0}},"xOffset":{"field":"p","type":"quantitative","scale":{"domain":[0,5],"range":[8.5,47.2]}},"y":{"scale":{"domain":[0,100]},"title":"Success rate (%)","axis":{"values":[0,20,40,60,80,100],"labelPadding":5,"titlePadding":4}}}},
{"width":200,"height":165,"data":{"name":"la"},"encoding":{"y":{"field":"r","type":"quantitative","axis":null,"scale":{"domain":[-1.01,8.37],"reverse":true}}},"layer":[
{"mark":{"type":"point","shape":"M-1,-0.3H1V0.3H-1Z","filled":true,"opacity":1,"size":400,"stroke":"#222","strokeWidth":1},"encoding":{"x":{"datum":-66.3,"type":"quantitative","axis":null,"scale":{"domain":[0,200],"range":[0,200]}},"fill":{"field":"s","scale":{"domain":["a","b","c","d","e"],"range":["#fff","#231f20","#5a92d0","#3555a8","#262a78"]},"legend":null}}},
{"mark":{"type":"text","align":"left","fontStyle":"italic","fontSize":14.2,"color":"#222"},"encoding":{"x":{"datum":-40.8,"type":"quantitative"},"text":{"field":"t"}}},
{"mark":{"type":"text","align":"left","fontSize":14,"color":"#222"},"encoding":{"x":{"datum":49.7,"type":"quantitative"},"text":{"field":"u"}}}]},
{"width":1,"height":74,"data":{"values":[{"a":1}]},"mark":{"type":"text","text":" "}},
{"width":1,"height":74,"data":{"values":[{"a":1}]},"mark":{"type":"text","text":" "}},
{"width":289,"height":164,"layer":[
{"data":{"name":"bb"},"mark":{"type":"bar","width":8.8,"strokeWidth":0.9},"encoding":{"fill":{"field":"s","scale":{"domain":["a","b","c","d"],"range":["#fff","#231f20","#3a7bc8","#2f52a3"]},"legend":null},"stroke":{"field":"s","scale":{"domain":["a","b","c","d"],"range":["#888","#231f20","#2f5f8f","#24407f"]},"legend":null},"y":{"field":"v","type":"quantitative"}}},
{"data":{"name":"bp"},"mark":{"type":"point","filled":false,"fill":"#fff","fillOpacity":1,"opacity":1,"size":16,"stroke":"#777","strokeWidth":0.7},"encoding":{"y":{"field":"v","type":"quantitative"}}},
{"data":{"name":"bb"},"mark":{"type":"rule","stroke":"#334","strokeWidth":0.8},"encoding":{"y":{"field":"l","type":"quantitative"},"y2":{"field":"h"}}},
{"data":{"name":"bb"},"mark":{"type":"tick","orient":"horizontal","size":5,"thickness":0.8,"color":"#334"},"encoding":{"y":{"field":"h","type":"quantitative"}}},
{"data":{"name":"bs"},"mark":{"type":"tick","orient":"horizontal","thickness":0.8,"color":"#444"},"encoding":{"y":{"field":"v","type":"quantitative"},"size":{"field":"n","type":"quantitative","legend":null,"scale":{"domain":[0,4],"range":[0,35.3]}}}},
{"data":{"name":"bs"},"transform":[{"filter":"datum.t=='ns'"}],"mark":{"type":"text","baseline":"bottom","fontSize":8,"color":"#666"},"encoding":{"y":{"field":"v","type":"quantitative"},"text":{"field":"t"}}},
{"data":{"name":"bs"},"transform":[{"filter":"datum.t!='ns'"}],"mark":{"type":"text","baseline":"bottom","fontSize":10.5,"dy":5.5,"color":"#222"},"encoding":{"y":{"field":"v","type":"quantitative"},"text":{"field":"t"}}},
{"data":{"values":[{"w":1,"p":-7.97,"v":107.8,"t":"B"}]},"mark":{"type":"text","fontSize":15,"fontWeight":"bold","align":"left","color":"#111"},"encoding":{"y":{"field":"v","type":"quantitative"},"text":{"field":"t"}}}
],"encoding":{"x":{"field":"w","type":"ordinal","title":"Weeks","axis":{"labelAngle":0,"labelPadding":4,"titlePadding":1},"scale":{"paddingInner":0,"paddingOuter":0.023,"align":0}},"xOffset":{"field":"p","type":"quantitative","scale":{"domain":[0,4],"range":[7,42.3]}},"y":{"scale":{"domain":[0,100]},"title":"Success rate (%)","axis":{"values":[0,20,40,60,80,100],"labelPadding":4,"titlePadding":7}}}},
{"width":200,"height":164,"data":{"name":"lb"},"encoding":{"y":{"field":"r","type":"quantitative","axis":null,"scale":{"domain":[0.52,10],"reverse":true}}},"layer":[
{"mark":{"type":"point","shape":"M-1,-0.3H1V0.3H-1Z","filled":true,"opacity":1,"size":400,"stroke":"#222","strokeWidth":1},"encoding":{"x":{"datum":-66.8,"type":"quantitative","axis":null,"scale":{"domain":[0,200],"range":[0,200]}},"fill":{"field":"s","scale":{"domain":["a","b","c","d"],"range":["#fff","#231f20","#3a7bc8","#2f52a3"]},"legend":null}}},
{"mark":{"type":"text","align":"left","fontStyle":"italic","fontSize":14.2,"color":"#222"},"encoding":{"x":{"datum":-40.3,"type":"quantitative"},"text":{"field":"t"}}},
{"mark":{"type":"text","align":"left","fontSize":14,"color":"#222"},"encoding":{"x":{"datum":50,"type":"quantitative"},"text":{"field":"u"}}}]},
{"width":1,"height":66,"data":{"values":[{"a":1}]},"mark":{"type":"text","text":" "}},
{"width":1,"height":66,"data":{"values":[{"a":1}]},"mark":{"type":"text","text":" "}},
{"width":293,"height":164,"layer":[
{"data":{"name":"cb"},"mark":{"type":"bar","width":8.75,"strokeWidth":0.9},"encoding":{"fill":{"field":"s","scale":{"domain":["a","b","c","d"],"range":["#fff","#231f20","#3a7bc8","#2f52a3"]},"legend":null},"stroke":{"field":"s","scale":{"domain":["a","b","c","d"],"range":["#888","#231f20","#2f5f8f","#24407f"]},"legend":null},"y":{"field":"v","type":"quantitative"}}},
{"data":{"name":"cp"},"mark":{"type":"point","filled":false,"fill":"#fff","fillOpacity":1,"opacity":1,"size":16,"stroke":"#777","strokeWidth":0.7},"encoding":{"y":{"field":"v","type":"quantitative"}}},
{"data":{"name":"cb"},"mark":{"type":"rule","stroke":"#334","strokeWidth":0.8},"encoding":{"y":{"field":"l","type":"quantitative"},"y2":{"field":"h"}}},
{"data":{"name":"cb"},"mark":{"type":"tick","orient":"horizontal","size":5,"thickness":0.8,"color":"#334"},"encoding":{"y":{"field":"h","type":"quantitative"}}},
{"data":{"name":"cs"},"mark":{"type":"tick","orient":"horizontal","thickness":0.8,"color":"#444"},"encoding":{"y":{"field":"v","type":"quantitative"},"size":{"field":"n","type":"quantitative","legend":null,"scale":{"domain":[0,4],"range":[0,35]}}}},
{"data":{"name":"cs"},"transform":[{"filter":"datum.t=='ns'"}],"mark":{"type":"text","baseline":"bottom","fontSize":8,"color":"#666"},"encoding":{"y":{"field":"v","type":"quantitative"},"text":{"field":"t"}}},
{"data":{"name":"cs"},"transform":[{"filter":"datum.t!='ns'"}],"mark":{"type":"text","baseline":"bottom","fontSize":10.5,"dy":5.5,"color":"#222"},"encoding":{"y":{"field":"v","type":"quantitative"},"text":{"field":"t"}}},
{"data":{"values":[{"w":1,"p":-8.3,"v":106.7,"t":"C"}]},"mark":{"type":"text","fontSize":15,"fontWeight":"bold","align":"left","color":"#111"},"encoding":{"y":{"field":"v","type":"quantitative"},"text":{"field":"t"}}}
],"encoding":{"x":{"field":"w","type":"ordinal","title":"Weeks","axis":{"labelAngle":0,"labelPadding":7,"titlePadding":3},"scale":{"paddingInner":0,"paddingOuter":0.0144,"align":0.78}},"xOffset":{"field":"p","type":"quantitative","scale":{"domain":[0,4],"range":[7.3,42.3]}},"y":{"scale":{"domain":[0,100]},"title":"Success rate (%)","axis":{"values":[0,20,40,60,80,100],"labelPadding":2,"titlePadding":4}}}},
{"width":200,"height":164,"data":{"name":"lc"},"encoding":{"y":{"field":"r","type":"quantitative","axis":null,"scale":{"domain":[0.35,10.05],"reverse":true}}},"layer":[
{"mark":{"type":"point","shape":"M-1,-0.3H1V0.3H-1Z","filled":true,"opacity":1,"size":400,"stroke":"#222","strokeWidth":1},"encoding":{"x":{"datum":-63.1,"type":"quantitative","axis":null,"scale":{"domain":[0,200],"range":[0,200]}},"fill":{"field":"s","scale":{"domain":["a","b","c","d"],"range":["#fff","#231f20","#3a7bc8","#2f52a3"]},"legend":null}}},
{"mark":{"type":"text","align":"left","fontStyle":"italic","fontSize":14.2,"color":"#222"},"encoding":{"x":{"datum":-37.8,"type":"quantitative"},"text":{"field":"t"}}},
{"mark":{"type":"text","align":"left","fontSize":14,"color":"#222"},"encoding":{"x":{"datum":53.4,"type":"quantitative"},"text":{"field":"u"}}}]},
{"width":1,"height":46,"data":{"values":[{"a":1}]},"mark":{"type":"text","text":" "}},
{"width":1,"height":46,"data":{"values":[{"a":1}]},"mark":{"type":"text","text":" "}},
{"width":376,"height":147,"encoding":{"x":{"field":"x","type":"quantitative","axis":null,"scale":{"domain":[68.3,444.3],"range":[0,376]}},"y":{"field":"y","type":"quantitative","axis":null,"scale":{"domain":[-67.5,79.5]}}},"layer":[
{"data":{"name":"tr"},"mark":{"type":"line","interpolate":"cardinal","stroke":"#777","strokeWidth":0.6,"opacity":0.8},"encoding":{"detail":{"field":"t"},"order":{"field":"i","type":"quantitative"}}},
{"data":{"name":"rh"},"mark":{"type":"point","shape":"circle","size":10500,"stroke":"#666","strokeWidth":3,"opacity":0.4},"encoding":{}},
{"data":{"name":"rg"},"mark":{"type":"point","shape":"circle","size":11400,"opacity":0.9},"encoding":{"stroke":{"field":"a","legend":null,"scale":{"domain":["1","2","3"],"range":["#555","#8a8a8a","#555"]}},"strokeWidth":{"value":1.2}}},
{"data":{"name":"at"},"mark":{"type":"text","fontStyle":"italic","fontSize":14.3,"color":"#222"},"encoding":{"text":{"field":"t"}}},
{"data":{"name":"ar"},"mark":{"type":"text","fontSize":14.3,"color":"#222"},"encoding":{"text":{"field":"t"}}},
{"data":{"name":"dl"},"mark":{"type":"text","fontSize":15,"fontWeight":"bold","align":"left","color":"#111"},"encoding":{"text":{"field":"t"}}}
]},
{"width":107,"height":147,"encoding":{"x":{"field":"g","type":"nominal","sort":["Lrrk2","G2019S","W"],"axis":{"title":null,"labels":false},"scale":{"domain":["Lrrk2","G2019S","W"],"paddingInner":0,"paddingOuter":0}},"y":{"type":"quantitative","field":"v","title":"Total traveled distance (cm)","scale":{"domain":[0,250]},"axis":{"values":[0,50,100,150,200,250],"titleFontSize":13.5,"labelPadding":3,"titlePadding":5}}},"layer":[
{"data":{"name":"db"},"mark":{"type":"bar","width":21,"stroke":"#111","strokeWidth":1.5},"encoding":{"fill":{"field":"g","legend":null,"scale":{"domain":["Lrrk2","G2019S","W"],"range":["#fff","#231f20","#3b78c2"]}}}},
{"data":{"name":"dp"},"mark":{"type":"point","filled":false,"fill":"#fff","fillOpacity":1,"opacity":1,"size":34,"stroke":"#333","strokeWidth":0.9},"encoding":{"xOffset":{"field":"o","type":"quantitative","scale":{"domain":[-17.9,17.9],"range":[0,35.8]}}}},
{"data":{"name":"db"},"mark":{"type":"rule","stroke":"#111","strokeWidth":1.2},"encoding":{"y":{"field":"l","type":"quantitative"},"y2":{"field":"h"}}},
{"data":{"name":"db"},"mark":{"type":"tick","orient":"horizontal","size":13,"thickness":1.2,"color":"#111"},"encoding":{"y":{"field":"h","type":"quantitative"}}},
{"data":{"name":"db"},"mark":{"type":"tick","orient":"horizontal","size":13,"thickness":1.2,"color":"#111"},"encoding":{"y":{"field":"l","type":"quantitative"}}},
{"data":{"name":"ds"},"mark":{"type":"tick","orient":"horizontal","size":32,"thickness":1,"color":"#444"},"encoding":{"xOffset":{"field":"o","type":"quantitative","scale":{"domain":[-17.9,17.9],"range":[0,35.8]}}}},
{"data":{"name":"ds"},"mark":{"type":"text","baseline":"bottom","fontSize":10,"dy":5,"color":"#222"},"encoding":{"xOffset":{"field":"o","type":"quantitative","scale":{"domain":[-17.9,17.9],"range":[0,35.8]}},"text":{"field":"t"}}},
{"data":{"name":"dk"},"mark":{"type":"point","shape":"M-1,-0.3H1V0.3H-1Z","filled":true,"opacity":1,"size":400,"stroke":"#111","strokeWidth":1},"encoding":{"xOffset":{"field":"o","type":"quantitative","scale":{"domain":[-17.9,17.9],"range":[0,35.8]}},"fill":{"field":"f","legend":null,"scale":{"domain":["Lrrk2","G2019S","W"],"range":["#fff","#231f20","#3b78c2"]}}}},
{"data":{"name":"dk"},"mark":{"type":"text","align":"left","fontStyle":"italic","fontSize":12,"color":"#222"},"encoding":{"xOffset":{"field":"o2","type":"quantitative","scale":{"domain":[-17.9,17.9],"range":[0,35.8]}},"text":{"field":"t"}}},
{"data":{"name":"dk"},"mark":{"type":"text","align":"left","fontSize":12,"color":"#222"},"encoding":{"xOffset":{"field":"o3","type":"quantitative","scale":{"domain":[-17.9,17.9],"range":[0,35.8]}},"text":{"field":"u"}}}
]}
]}
